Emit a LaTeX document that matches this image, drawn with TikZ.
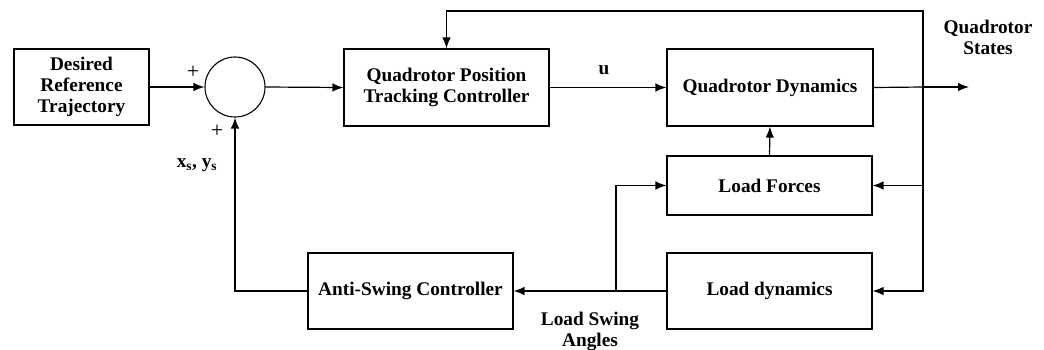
\documentclass[tikz,border=0pt]{standalone}
\usepackage{fontspec}
\setmainfont{Liberation Serif}
\usetikzlibrary{arrows.meta}
\begin{document}
\begin{tikzpicture}[x=1pt,y=-1pt,
  blk/.style={draw,line width=1.1pt,align=center,inner sep=0pt,
    font=\fontsize{19.3}{21}\selectfont\bfseries},
  lbl/.style={align=center,inner sep=0pt,font=\fontsize{19.3}{21}\selectfont\bfseries},
  pl/.style={inner sep=0pt,font=\fontsize{22}{22}\selectfont},
  wire/.style={line width=1.2pt},
  arr/.style={wire,-{Latex[length=11pt,width=8.5pt]}}]
\useasboundingbox (0,0) rectangle (1044,349);
\node[blk,minimum width=135pt,minimum height=76pt] (des) at (81.5,87) {Desired\\Reference\\Trajectory};
\node[draw,line width=1.1pt,circle,minimum size=60pt,inner sep=0pt] (sum) at (235,87) {};
\node[blk,minimum width=205pt,minimum height=77pt] (qptc) at (446.5,87.5) {Quadrotor Position\\Tracking Controller};
\node[blk,minimum width=206pt,minimum height=77pt] (qd) at (770,87.5) {Quadrotor Dynamics};
\node[blk,minimum width=205pt,minimum height=59pt] (lf) at (769.5,185.5) {Load Forces};
\node[blk,minimum width=205pt,minimum height=76pt] (ld) at (769.5,291) {Load dynamics};
\node[blk,minimum width=205pt,minimum height=76pt] (asc) at (410.5,291) {Anti-Swing Controller};
\coordinate (j) at (923,87);
\coordinate (out) at (969,87);
\coordinate (top) at (923,11);
\coordinate (b) at (616,291);
% labels
\node[pl] (p1) at (193,72) {+};
\node[pl] (p2) at (217,131) {+};
\node[lbl] (xs) at (197,165) {x\textsubscript{s}, y\textsubscript{s}};
\node[lbl] (u) at (604,70) {u};
\node[lbl] (qs) at (988,37) {Quadrotor\\States};
\node[lbl] (lsa) at (590,331) {Load Swing\\Angles};
% connectors
\draw[arr] (des.east) -- (sum.west);
\draw[arr] (sum.east) -- (qptc.west);
\draw[arr] (qptc.east) -- (qd.west);
\draw[wire] (qd.east) -- (j);
\draw[arr] (j) -- (out);
\draw[arr] (j) -- (top) -| (qptc.north);
\draw[arr] (j) |- (lf.east);
\draw[arr] (j) |- (ld.east);
\draw[arr] (lf.north) -- (qd.south);
\draw[arr] (ld.west) -- (asc.east);
\draw[arr] (b) |- (lf.west);
\draw[arr] (asc.west) -| (sum.south);
\end{tikzpicture}
\end{document}
